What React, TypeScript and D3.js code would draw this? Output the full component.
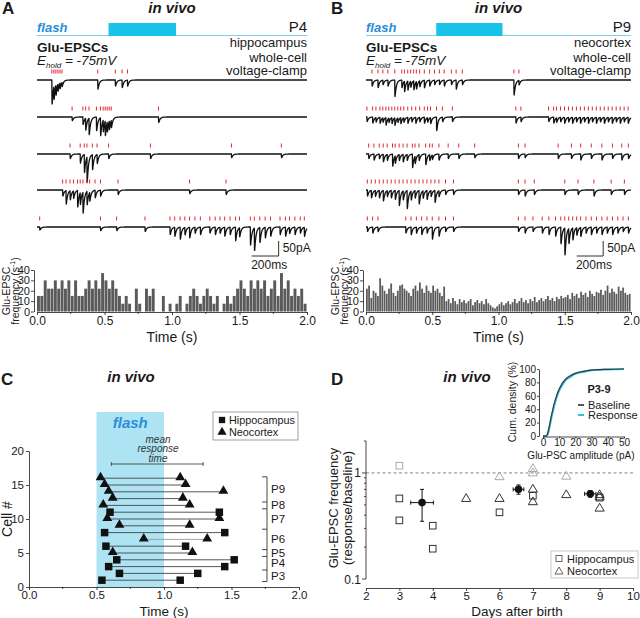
import React, { useEffect, useRef } from 'react';
import * as d3 from 'd3';

const FONT = 'Arial, "Liberation Sans", Helvetica, sans-serif';
const INK = '#1a1a1a';
const FLASH_TEXT = '#2a8ed6';
const FLASH_BAR = '#19c2e8';
const FLASH_LINE = '#7fd0ec';
const FLASH_FILL = '#aee3f4';
const EVENT_RED = '#e3262e';
const BAR_FILL = '#5a5a5a';
const CYAN = '#2cc3e0';

// ---------- panel A / B : sweeps as [time (s), amplitude (pA)] of each detected EPSC
const sweepsA: [number, number][][] = [
  [[0.11, 80], [0.125, 45], [0.14, 35], [0.155, 25], [0.17, 20], [0.185, 15], [0.45, 30], [0.58, 20], [0.63, 25], [0.67, 20]],
  [[0.26, 12], [0.34, 25], [0.36, 40], [0.385, 55], [0.44, 45], [0.47, 60], [0.49, 40], [0.505, 50], [0.52, 35], [0.535, 30], [0.55, 25], [0.9, 18]],
  [[0.245, 15], [0.32, 30], [0.35, 60], [0.37, 85], [0.41, 50], [0.445, 30], [0.53, 15], [0.84, 15], [1.44, 12], [1.81, 12]],
  [[0.19, 20], [0.215, 45], [0.245, 30], [0.27, 25], [0.3, 55], [0.32, 40], [0.34, 70], [0.37, 45], [0.39, 30], [0.43, 25], [0.47, 20], [0.6, 15], [1.13, 12], [1.4, 15]],
  [[0.02, 10], [0.47, 12], [0.59, 12], [0.8, 15], [0.985, 25], [1.02, 30], [1.06, 40], [1.095, 25], [1.13, 35], [1.17, 20], [1.21, 25], [1.28, 20], [1.32, 25], [1.355, 20], [1.39, 30], [1.43, 25], [1.47, 45], [1.5, 30], [1.58, 60], [1.61, 75], [1.65, 50], [1.69, 35], [1.73, 30], [1.8, 25], [1.84, 30], [1.87, 20], [1.91, 25], [1.95, 20], [1.98, 30]],
];

const sweepsB: [number, number][][] = [
  [[0.045, 20], [0.09, 25], [0.127, 15], [0.165, 20], [0.217, 55], [0.27, 25], [0.29, 35], [0.315, 30], [0.337, 20], [0.36, 30], [0.38, 25], [0.405, 20], [0.44, 25], [0.48, 20], [0.517, 15], [0.554, 15], [0.59, 20], [0.644, 15], [0.68, 30], [0.727, 15], [1.116, 50], [1.154, 15]],
  [[0.007, 15], [0.05, 20], [0.075, 15], [0.105, 20], [0.127, 15], [0.15, 25], [0.172, 15], [0.195, 20], [0.217, 25], [0.24, 15], [0.262, 20], [0.285, 15], [0.315, 20], [0.345, 15], [0.375, 20], [0.405, 15], [0.44, 20], [0.464, 15], [0.487, 20], [0.532, 45], [0.577, 15], [0.652, 15], [1.131, 20], [1.169, 15], [1.378, 15], [1.416, 20], [1.438, 15], [1.468, 15], [1.498, 20], [1.528, 15], [1.558, 20], [1.588, 15], [1.618, 20], [1.648, 15], [1.678, 20], [1.708, 15], [1.738, 20], [1.768, 15], [1.798, 20], [1.828, 15], [1.858, 20], [1.888, 15], [1.918, 20], [1.948, 15], [1.978, 20]],
  [[0.02, 15], [0.06, 20], [0.1, 15], [0.13, 25], [0.16, 20], [0.2, 40], [0.22, 25], [0.25, 20], [0.28, 25], [0.31, 20], [0.35, 45], [0.37, 25], [0.4, 20], [0.45, 35], [0.48, 20], [0.5, 15], [0.55, 20], [0.62, 15], [0.7, 15], [0.82, 12], [1.15, 15], [1.2, 12], [1.45, 15], [1.55, 15], [1.62, 20], [1.7, 15], [1.78, 20], [1.86, 15], [1.93, 20], [1.98, 15]],
  [[0.01, 20], [0.04, 25], [0.07, 20], [0.1, 25], [0.13, 35], [0.16, 20], [0.19, 25], [0.22, 30], [0.25, 50], [0.28, 30], [0.31, 60], [0.34, 30], [0.37, 25], [0.4, 45], [0.43, 25], [0.46, 30], [0.49, 20], [0.52, 40], [0.55, 20], [0.6, 15], [0.66, 15], [1.15, 15], [1.2, 20], [1.27, 15], [1.5, 15], [1.6, 15], [1.72, 20], [1.85, 15], [1.95, 15]],
  [[0.01, 15], [0.05, 20], [0.09, 15], [0.3, 20], [0.34, 25], [0.38, 20], [0.42, 25], [0.46, 20], [0.5, 40], [0.55, 30], [0.6, 15], [0.66, 15], [1.15, 15], [1.2, 20], [1.26, 15], [1.33, 20], [1.38, 25], [1.43, 30], [1.47, 55], [1.5, 90], [1.53, 50], [1.56, 40], [1.59, 25], [1.62, 30], [1.66, 20], [1.7, 25], [1.74, 20], [1.78, 25], [1.82, 20], [1.86, 25], [1.9, 20], [1.94, 15], [1.98, 20]],
];

// peri-stimulus histograms, Glu-EPSC frequency (s^-1) per bin over 0-2 s
const histA = [
  15, 15, 30, 22, 22, 30, 22, 30, 22, 30, 15, 30, 15, 15, 22, 30, 22, 30, 22, 37, 30, 22, 30, 22,
  15, 7.5, 15, 7.5, 0, 22, 7.5, 0, 22, 15, 22, 0,
  0, 15, 0, 7.5, 0, 7.5, 15, 0, 7.5, 15, 22, 15,
  7.5, 15, 22, 15, 7.5, 15, 0, 7.5, 15, 7.5, 15, 22,
  30, 22, 15, 30, 22, 30, 22, 30, 15, 22, 30, 15,
  37, 22, 30, 15, 22, 15, 22, 7.5,
];
const histB = [
  22, 25, 13, 20, 18, 15, 32, 25, 20, 17, 22, 27, 18, 15, 20, 25, 26, 22, 20, 18, 15, 22, 25, 20, 28, 22, 18, 25, 20, 18, 25, 20, 22, 18, 15, 24,
  10, 12, 8, 13, 10, 7, 12, 9, 11, 8, 10, 12, 6, 9, 11, 8, 10, 7, 12, 8, 6, 4, 3, 5,
  7, 9, 6, 8, 10, 7, 9, 12, 8, 10, 13, 9, 11, 8, 12, 10, 14, 9, 11, 13, 10, 12, 15, 11, 13, 10, 14, 12, 15, 13,
  14, 16, 12, 18, 15, 17, 13, 19, 16, 18, 14, 20, 17, 15, 19, 18, 21, 16, 20, 25, 18, 22, 19, 17, 24, 20, 23, 18, 16, 17,
];
const timeTicks = [0, 0.5, 1, 1.5, 2];
const freqTicks = [0, 10, 20, 30, 40];
const flashWindow = [0.53, 1.03];

// ---------- panel C : response onset / offset per cell
const cellOnset = [0.54, 0.67, 0.59, 0.65, 0.62, 0.57, 0.85, 0.56, 0.67, 0.58, 0.6, 0.55, 0.62, 0.59, 0.56, 0.53];
const cellOffset = [1.12, 1.25, 1.45, 1.52, 1.21, 1.16, 1.32, 1.45, 1.19, 1.41, 1.41, 1.19, 1.14, 1.44, 1.16, 1.12];
const cellRegion = ['hip', 'hip', 'hip', 'hip', 'neo', 'hip', 'neo', 'hip', 'neo', 'neo', 'hip', 'neo', 'neo', 'neo', 'neo', 'neo'];
const ageLabels = ['P3', 'P4', 'P5', 'P6', 'P7', 'P8', 'P9'];
const ageBounds = [0.8, 2.5, 4.5, 5.5, 8.5, 11.5, 12.5, 16.2];
const meanResponseTime = [0.61, 1.29];
const cellTicks = [0, 5, 10, 15, 20];

// ---------- panel D : response/baseline ratio vs age
const hipDays = [3, 3, 3, 4, 4, 6, 7, 9];
const hipRatio = [1.17, 0.575, 0.357, 0.318, 0.193, 0.425, 0.61, 0.585];
const hipFaded = [true, false, false, false, false, false, false, false];
const neoDays = [5, 6, 6, 7, 7, 7, 7, 8, 8, 9, 9, 9];
const neoRatio = [0.58, 0.93, 0.58, 1.11, 1.01, 0.71, 0.54, 0.94, 0.63, 0.63, 0.6, 0.47];
const neoFaded = [false, true, false, true, true, false, false, true, false, false, false, false];
const meanDays = [3.68, 6.57, 8.72];
const meanDayErr = [0.34, 0.16, 0.17];
const meanRatio = [0.525, 0.7, 0.635];
const meanRatioLow = [0.35, 0.63, 0.59];
const meanRatioHigh = [0.7, 0.77, 0.68];
const dayTicks = [2, 3, 4, 5, 6, 7, 8, 9, 10];

// inset : cumulative amplitude distribution
const ampValues = [0, 2, 3, 4, 5, 6, 7, 8, 10, 12, 14, 17, 20, 25, 30, 40, 50];
const cumBaseline = [0, 0, 5, 16, 28, 39, 49, 57, 70, 79, 85, 90, 93.5, 96.5, 98.3, 99.5, 100];
const cumResponse = [0, 0, 3, 13, 25, 36, 46, 55, 68, 77, 84, 89, 93, 96, 98, 99.4, 100];
const cumResponseSem = [0, 0, 2, 4, 5, 5, 5, 5, 4, 4, 3, 3, 2, 2, 1, 0.5, 0];

type Sel = d3.Selection<any, unknown, null, undefined>;

function txt(g: Sel, x: number, y: number, s: string, o: any = {}) {
  return g.append('text')
    .attr('x', x).attr('y', y)
    .attr('font-size', o.size || 12)
    .attr('font-weight', o.weight || 'normal')
    .attr('font-style', o.style || 'normal')
    .attr('text-anchor', o.anchor || 'start')
    .attr('fill', o.fill || INK)
    .text(s);
}

function styleAxis(g: Sel, size = 12) {
  g.attr('font-family', FONT);
  g.selectAll('path.domain').attr('stroke', INK).attr('stroke-width', 0.8);
  g.selectAll('.tick line').attr('stroke', INK).attr('stroke-width', 0.8);
  g.selectAll('.tick text').attr('font-size', size).attr('fill', INK);
}

const kernel = (d: number) => (1 - Math.exp(-d / 0.0008)) * Math.exp(-d / 0.01);
const kernelPeak = d3.max(d3.range(0, 0.02, 0.0001), kernel) || 1;

function drawRecording(svg: Sel, cfg: any) {
  const { left, right, letter, letterX, age, region, sweeps, hist } = cfg;
  const xs = d3.scaleLinear().domain([0, 2]).range([left, right]);
  const center = (left + right) / 2;
  const g = svg.append('g');

  txt(g, letterX, 14, letter, { size: 17, weight: 'bold' });
  txt(g, center, 13, 'in vivo', { size: 15, weight: 'bold', style: 'italic', anchor: 'middle' });

  // flash bar
  g.append('line').attr('x1', xs(0)).attr('x2', xs(2)).attr('y1', 35.5).attr('y2', 35.5)
    .attr('stroke', FLASH_LINE).attr('stroke-width', 1);
  g.append('rect').attr('x', xs(flashWindow[0])).attr('y', 23)
    .attr('width', xs(flashWindow[1]) - xs(flashWindow[0])).attr('height', 13).attr('fill', FLASH_BAR);
  txt(g, xs(0), 32, 'flash', { size: 13, weight: 'bold', style: 'italic', fill: FLASH_TEXT });
  txt(g, xs(2), 32, age, { size: 15, anchor: 'end' });
  txt(g, xs(2), 47, region, { size: 13, anchor: 'end' });
  txt(g, xs(2), 61.5, 'whole-cell', { size: 13, anchor: 'end' });
  txt(g, xs(2), 75, 'voltage-clamp', { size: 13, anchor: 'end' });
  txt(g, xs(0), 52, 'Glu-EPSCs', { size: 13.5, weight: 'bold' });
  const eh = g.append('text').attr('x', xs(0)).attr('y', 65).attr('font-size', 13.5)
    .attr('font-style', 'italic').attr('fill', INK);
  eh.append('tspan').text('E');
  eh.append('tspan').attr('font-size', 8).attr('dy', 3).text('hold');
  eh.append('tspan').attr('dy', -3).text(' = -75mV');

  // sweeps
  const baselines = [80, 117, 154, 190, 227];
  const pxPerPA = 0.3;
  const line = d3.line();
  sweeps.forEach((events: [number, number][], i: number) => {
    const y0 = baselines[i];
    const pts: [number, number][] = d3.range(0, 2.0001, 0.0005).map((t) => {
      let v = 0;
      events.forEach(([te, a]) => {
        const d = t - te;
        if (d >= 0 && d < 0.08) v += (a * kernel(d)) / kernelPeak;
      });
      return [xs(t), y0 + v * pxPerPA];
    });
    g.append('path').attr('d', line(pts)).attr('fill', 'none').attr('stroke', '#111')
      .attr('stroke-width', 1.3).attr('stroke-linejoin', 'round');
    g.append('g').selectAll('line').data(events).join('line')
      .attr('x1', (e) => xs(e[0])).attr('x2', (e) => xs(e[0]))
      .attr('y1', y0 - 10.5).attr('y2', y0 - 6.5)
      .attr('stroke', EVENT_RED).attr('stroke-width', 1);
  });

  // scale bars
  const sbX = xs(1.79);
  g.append('path')
    .attr('d', `M${sbX},${256 - 50 * pxPerPA}V256H${sbX - (xs(0.2) - xs(0))}`)
    .attr('fill', 'none').attr('stroke', INK).attr('stroke-width', 0.9);
  txt(g, sbX + 4, 252, '50pA', { size: 12 });
  txt(g, sbX - (xs(0.2) - xs(0)) / 2 + 4, 269, '200ms', { size: 12, anchor: 'middle' });

  // histogram
  const yh = d3.scaleLinear().domain([0, 40]).range([311.5, 270]);
  const bw = 2 / hist.length;
  g.append('g').selectAll('rect').data(hist).join('rect')
    .attr('x', (_: number, i: number) => xs(i * bw))
    .attr('y', (v: number) => yh(v))
    .attr('width', Math.max(0.5, xs(bw) - xs(0) - 0.45))
    .attr('height', (v: number) => yh(0) - yh(v))
    .attr('fill', BAR_FILL);

  const ax = g.append('g').attr('transform', 'translate(0,312)')
    .call(d3.axisBottom(xs).tickValues(timeTicks).tickFormat(d3.format('.1f')).tickSize(3).tickSizeOuter(0).tickPadding(1.5));
  styleAxis(ax, 12);
  ax.append('g').selectAll('line').data([0.25, 0.75, 1.25, 1.75]).join('line')
    .attr('x1', (d) => xs(d)).attr('x2', (d) => xs(d)).attr('y1', 0).attr('y2', 2)
    .attr('stroke', INK).attr('stroke-width', 0.8);
  const ay = g.append('g').attr('transform', `translate(${left - 3},0)`)
    .call(d3.axisLeft(yh).tickValues(freqTicks).tickSize(3).tickSizeOuter(0).tickPadding(1));
  styleAxis(ay, 11);
  txt(g, center, 342, 'Time (s)', { size: 14, anchor: 'middle' });

  const lab = g.append('g').attr('transform', `translate(${left - 27.5},291) rotate(-90)`);
  txt(lab, 0, 0, 'Glu-EPSC', { size: 10.5, anchor: 'middle' });
  const fq = lab.append('text').attr('x', 0).attr('y', 9).attr('font-size', 10.5)
    .attr('text-anchor', 'middle').attr('fill', INK);
  fq.append('tspan').text('frequency (s');
  fq.append('tspan').attr('font-size', 7).attr('dy', -3.5).text('-1');
  fq.append('tspan').attr('dy', 3.5).text(')');
}

function drawCells(svg: Sel) {
  const g = svg.append('g');
  const x = d3.scaleLinear().domain([0, 2]).range([29, 299]);
  const y = d3.scaleLinear().domain([0, 20]).range([587, 451]);

  txt(g, 1, 385, 'C', { size: 17, weight: 'bold' });
  txt(g, 131, 382, 'in vivo', { size: 15, weight: 'bold', style: 'italic', anchor: 'middle' });

  g.append('rect').attr('x', x(0.5)).attr('y', 412).attr('width', x(1) - x(0.5)).attr('height', 587 - 412)
    .attr('fill', FLASH_FILL);
  txt(g, x(0.75), 428, 'flash', { size: 15, weight: 'bold', style: 'italic', anchor: 'middle', fill: FLASH_TEXT });

  ['mean', 'response', 'time'].forEach((w, i) => {
    txt(g, 158, 442.5 + i * 9.8, w, { size: 10, style: 'italic', anchor: 'middle', fill: '#333' });
  });
  g.append('path')
    .attr('d', `M${x(meanResponseTime[0])},462V466M${x(meanResponseTime[0])},464H${x(meanResponseTime[1])}M${x(meanResponseTime[1])},462V466`)
    .attr('stroke', '#333').attr('stroke-width', 0.8).attr('fill', 'none');

  const cells = cellOnset.map((on, i) => ({ n: i + 1, on, off: cellOffset[i], region: cellRegion[i] }));
  g.append('g').selectAll('line').data(cells).join('line')
    .attr('x1', (d) => x(d.on)).attr('x2', (d) => x(d.off))
    .attr('y1', (d) => y(d.n)).attr('y2', (d) => y(d.n))
    .attr('stroke', (d) => (d.n === 7 ? '#9a9a9a' : '#444')).attr('stroke-width', 0.9);
  const sq = d3.symbol().type(d3.symbolSquare).size(56);
  const tri = d3.symbol().type(d3.symbolTriangle).size(42);
  const marks = cells.flatMap((c) => [{ ...c, t: c.on }, { ...c, t: c.off }]);
  g.append('g').selectAll('path').data(marks).join('path')
    .attr('d', (d) => (d.region === 'hip' ? sq() : tri()))
    .attr('transform', (d) => `translate(${x(d.t)},${y(d.n) - (d.region === 'hip' ? 0 : 0.8)})`)
    .attr('fill', '#111');

  // age brackets
  const bx = 267;
  const b = g.append('g').attr('stroke', '#333').attr('stroke-width', 0.9);
  b.append('line').attr('x1', bx).attr('x2', bx).attr('y1', y(ageBounds[ageBounds.length - 1])).attr('y2', y(ageBounds[0]));
  ageBounds.forEach((v) => {
    b.append('line').attr('x1', bx - 5).attr('x2', bx).attr('y1', y(v)).attr('y2', y(v));
  });
  ageLabels.forEach((l, i) => {
    txt(g, bx + 4, y((ageBounds[i] + ageBounds[i + 1]) / 2) + 4, l, { size: 11.5 });
  });

  // legend
  g.append('rect').attr('x', 213).attr('y', 412).attr('width', 85).attr('height', 28)
    .attr('fill', '#fff').attr('stroke', '#888').attr('stroke-width', 0.8);
  g.append('path').attr('d', d3.symbol().type(d3.symbolSquare).size(40)()).attr('transform', 'translate(222,420)').attr('fill', '#111');
  g.append('path').attr('d', d3.symbol().type(d3.symbolTriangle).size(36)()).attr('transform', 'translate(222,432)').attr('fill', '#111');
  txt(g, 229, 424, 'Hippocampus', { size: 10.8 });
  txt(g, 229, 436, 'Neocortex', { size: 10.8 });

  const ax = g.append('g').attr('transform', 'translate(0,587)')
    .call(d3.axisBottom(x).tickValues(timeTicks).tickFormat(d3.format('.1f')).tickSize(3).tickSizeOuter(0).tickPadding(1));
  styleAxis(ax, 11.5);
  ax.append('g').selectAll('line').data([0.25, 0.75, 1.25, 1.75]).join('line')
    .attr('x1', (d) => x(d)).attr('x2', (d) => x(d)).attr('y1', 0).attr('y2', 2)
    .attr('stroke', INK).attr('stroke-width', 0.8);
  const ay = g.append('g').attr('transform', 'translate(29,0)')
    .call(d3.axisLeft(y).tickValues(cellTicks).tickSize(3).tickSizeOuter(0).tickPadding(2));
  styleAxis(ay, 11.5);
  txt(g, 164, 615.5, 'Time (s)', { size: 13.5, anchor: 'middle' });
  txt(g.append('g').attr('transform', 'translate(12,519) rotate(-90)'), 0, 0, 'Cell #', { size: 14, anchor: 'middle' });
}

function drawRatios(svg: Sel) {
  const g = svg.append('g');
  const x = d3.scaleLinear().domain([2, 10]).range([366, 633]);
  const y = d3.scaleLog().domain([0.1, 2]).range([579, 441]);

  txt(g, 331, 385, 'D', { size: 17, weight: 'bold' });
  txt(g, 467, 382, 'in vivo', { size: 15, weight: 'bold', style: 'italic', anchor: 'middle' });

  g.append('line').attr('x1', x(2)).attr('x2', x(10)).attr('y1', y(1)).attr('y2', y(1))
    .attr('stroke', '#777').attr('stroke-width', 0.9).attr('stroke-dasharray', '3,2.5');

  // axes
  const ax = g.append('g').attr('transform', 'translate(0,588)')
    .call(d3.axisBottom(x).tickValues(dayTicks).tickFormat(d3.format('d')).tickSize(3).tickSizeOuter(0).tickPadding(1));
  styleAxis(ax, 11.5);
  const yAxis = g.append('g').attr('transform', `translate(${x(2)},0)`);
  yAxis.append('line').attr('x1', 0).attr('x2', 0).attr('y1', y(2)).attr('y2', y(0.1)).attr('stroke', INK).attr('stroke-width', 0.8);
  const minor = [0.2, 0.3, 0.4, 0.5, 0.6, 0.7, 0.8, 0.9, 2];
  yAxis.selectAll('line.minor').data(minor).join('line').attr('class', 'minor')
    .attr('x1', -2).attr('x2', 0).attr('y1', (d) => y(d)).attr('y2', (d) => y(d))
    .attr('stroke', INK).attr('stroke-width', 0.8);
  [0.1, 1].forEach((v) => {
    yAxis.append('line').attr('x1', -4).attr('x2', 0).attr('y1', y(v)).attr('y2', y(v)).attr('stroke', INK).attr('stroke-width', 0.8);
    txt(yAxis, -5, y(v) + 4.5, v === 1 ? '1' : '0.1', { size: 12 });
  });
  yAxis.selectAll('text').attr('text-anchor', 'end');

  const lab = g.append('g').attr('transform', 'translate(338,508) rotate(-90)');
  txt(lab, 0, 0, 'Glu-EPSC frequency', { size: 13, anchor: 'middle' });
  txt(lab, 0, 14, '(response/baseline)', { size: 13, anchor: 'middle' });
  txt(g, 517, 615.5, 'Days after birth', { size: 13.5, anchor: 'middle' });

  // points
  const hip = hipDays.map((d, i) => ({ d, r: hipRatio[i], faded: hipFaded[i] }));
  g.append('g').selectAll('rect').data(hip).join('rect')
    .attr('x', (p) => x(p.d) - 3.3).attr('y', (p) => y(p.r) - 3.3).attr('width', 6.6).attr('height', 6.6)
    .attr('fill', '#fff').attr('stroke', (p) => (p.faded ? '#aaa' : '#333')).attr('stroke-width', 1);
  const neo = neoDays.map((d, i) => ({ d, r: neoRatio[i], faded: neoFaded[i] }));
  g.append('g').selectAll('path').data(neo).join('path')
    .attr('d', (p) => `M${x(p.d)},${y(p.r) - 4.4}L${x(p.d) + 4.6},${y(p.r) + 3.4}L${x(p.d) - 4.6},${y(p.r) + 3.4}Z`)
    .attr('fill', 'none').attr('stroke', (p) => (p.faded ? '#aaa' : '#333')).attr('stroke-width', 1);

  const means = meanDays.map((d, i) => ({ d, r: meanRatio[i], dx: meanDayErr[i], lo: meanRatioLow[i], hi: meanRatioHigh[i] }));
  const eb = g.append('g').attr('stroke', '#111').attr('stroke-width', 1).attr('fill', 'none');
  means.forEach((m) => {
    eb.append('path').attr('d',
      `M${x(m.d - m.dx)},${y(m.r)}H${x(m.d + m.dx)}M${x(m.d - m.dx)},${y(m.r) - 2}v4M${x(m.d + m.dx)},${y(m.r) - 2}v4` +
      `M${x(m.d)},${y(m.hi)}V${y(m.lo)}M${x(m.d) - 2},${y(m.hi)}h4M${x(m.d) - 2},${y(m.lo)}h4`);
  });
  g.append('g').selectAll('circle').data(means).join('circle')
    .attr('cx', (m) => x(m.d)).attr('cy', (m) => y(m.r)).attr('r', 3.8).attr('fill', '#111');

  // legend
  g.append('rect').attr('x', 551).attr('y', 551).attr('width', 87).attr('height', 27)
    .attr('fill', '#fff').attr('stroke', '#bbb').attr('stroke-width', 0.8);
  g.append('rect').attr('x', 556).attr('y', 555.5).attr('width', 6).attr('height', 6)
    .attr('fill', '#fff').attr('stroke', '#555').attr('stroke-width', 0.9);
  g.append('path').attr('d', 'M559,567L563,574H555Z').attr('fill', 'none').attr('stroke', '#555').attr('stroke-width', 0.9);
  txt(g, 567, 562.5, 'Hippocampus', { size: 11 });
  txt(g, 567, 575, 'Neocortex', { size: 11 });

  // inset
  const ix = d3.scaleLinear().domain([0, 50]).range([543, 624]);
  const iy = d3.scaleLinear().domain([0, 100]).range([436, 369]);
  const inset = g.append('g');
  const band = d3.area<number>().x((_, i) => ix(ampValues[i]))
    .y0((v, i) => iy(Math.max(0, v - cumResponseSem[i]))).y1((v, i) => iy(Math.min(100, v + cumResponseSem[i])))
    .curve(d3.curveMonotoneX);
  inset.append('path').attr('d', band(cumResponse)).attr('fill', '#9fdcea').attr('opacity', 0.8);
  const cl = d3.line<number>().x((_, i) => ix(ampValues[i])).y((v) => iy(v)).curve(d3.curveMonotoneX);
  inset.append('path').attr('d', cl(cumResponse)).attr('fill', 'none').attr('stroke', CYAN).attr('stroke-width', 2);
  inset.append('path').attr('d', cl(cumBaseline)).attr('fill', 'none').attr('stroke', '#3a3a3a').attr('stroke-width', 1.2);

  const iax = inset.append('g').attr('transform', 'translate(0,436.5)')
    .call(d3.axisBottom(ix).tickValues([0, 10, 20, 30, 40, 50]).tickSize(2).tickSizeOuter(0).tickPadding(0));
  styleAxis(iax, 10);
  const iay = inset.append('g').attr('transform', 'translate(539,0)')
    .call(d3.axisLeft(iy).tickValues([0, 20, 40, 60, 80, 100]).tickSize(2).tickSizeOuter(0).tickPadding(1));
  styleAxis(iay, 10);
  txt(inset, 581, 459, 'Glu-PSC amplitude (pA)', { size: 10, anchor: 'middle' });
  txt(inset.append('g').attr('transform', 'translate(516,402) rotate(-90)'), 0, 0, 'Cum. density (%)', { size: 10.5, anchor: 'middle' });
  txt(inset, 599, 393, 'P3-9', { size: 11, weight: 'bold', anchor: 'middle' });
  inset.append('line').attr('x1', 578).attr('x2', 584).attr('y1', 405).attr('y2', 405).attr('stroke', '#555').attr('stroke-width', 2);
  inset.append('line').attr('x1', 578).attr('x2', 584).attr('y1', 415).attr('y2', 415).attr('stroke', CYAN).attr('stroke-width', 2);
  txt(inset, 588, 409, 'Baseline', { size: 11 });
  txt(inset, 588, 419, 'Response', { size: 11 });
}

export default function App() {
  const ref = useRef<SVGSVGElement>(null);

  useEffect(() => {
    document.body.style.margin = '0';
    const svg = d3.select(ref.current) as Sel;
    svg.selectAll('*').remove();
    drawRecording(svg, { left: 37, right: 307, letter: 'A', letterX: 2, age: 'P4', region: 'hippocampus', sweeps: sweepsA, hist: histA });
    drawRecording(svg, { left: 366, right: 631, letter: 'B', letterX: 331, age: 'P9', region: 'neocortex', sweeps: sweepsB, hist: histB });
    drawCells(svg);
    drawRatios(svg);
  }, []);

  return (
    <svg
      ref={ref}
      width={640}
      height={618}
      fontFamily={FONT}
      style={{ position: 'absolute', left: 0, top: 0, background: '#fff' }}
    />
  );
}
